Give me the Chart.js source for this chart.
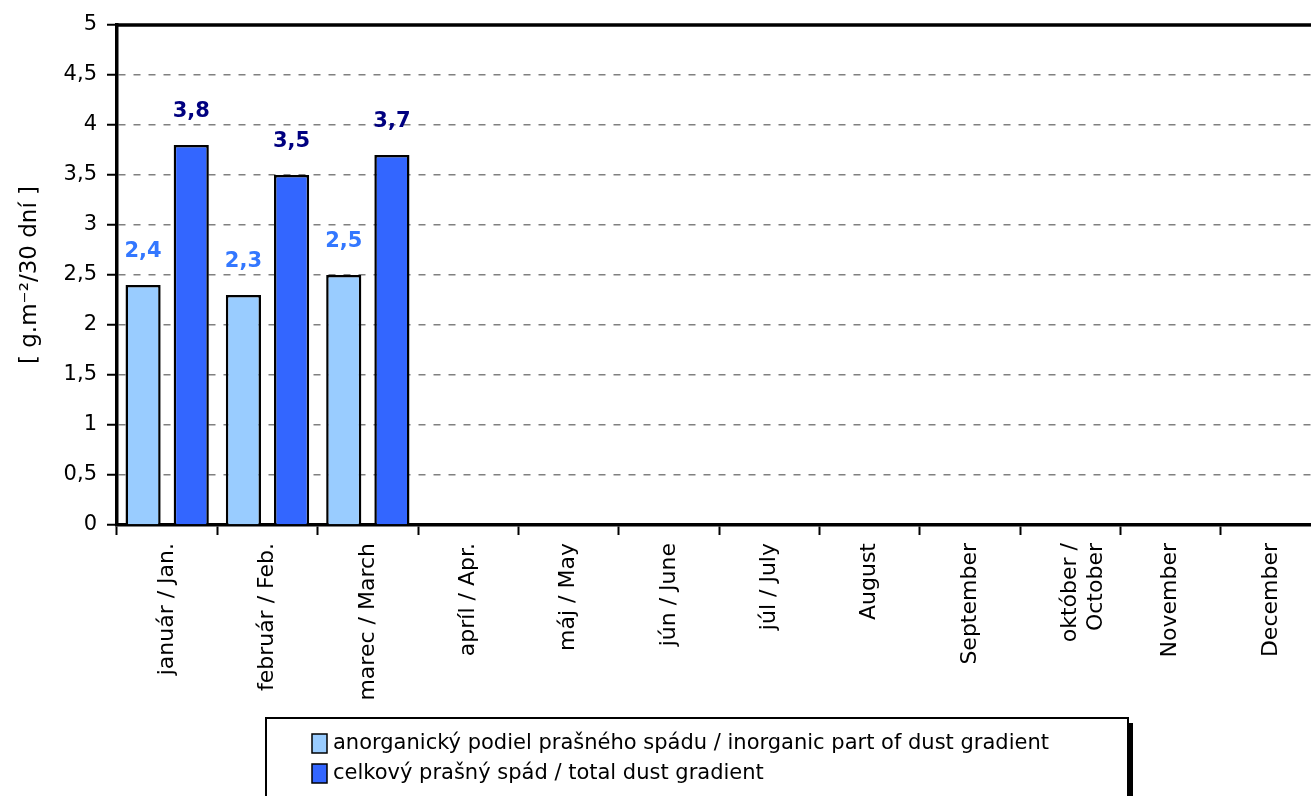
<!DOCTYPE html>
<html>
<head>
<meta charset="utf-8">
<script src="https://cdn.jsdelivr.net/npm/chart.js@4/dist/chart.umd.min.js"></script>
<style>
  html, body { margin: 0; padding: 0; background: #fff; overflow: hidden; }
  #wrap { width: 1311px; height: 796px; overflow: hidden; }
</style>
</head>
<body>
<div id="wrap"><canvas id="dustChart" width="1330" height="796"></canvas></div>
<script>
// mesiace / months
const months = [
    'január / Jan.', 'február / Feb.', 'marec / March', 'apríl / Apr.',
    'máj / May', 'jún / June', 'júl / July', 'August', 'September',
    ['október /', 'October'], 'November', 'December'
];
const inorganic = [2.4, 2.3, 2.5, null, null, null, null, null, null, null, null, null];
const total = [3.8, 3.5, 3.7, null, null, null, null, null, null, null, null, null];
const yTicks = [0, 0.5, 1, 1.5, 2, 2.5, 3, 3.5, 4, 4.5, 5];
const seriesNames = [
    'anorganický podiel prašného spádu / inorganic part of dust gradient',
    'celkový prašný spád / total dust gradient'
];

const FONT = "'DejaVu Sans', sans-serif";
const comma = v => String(v).replace('.', ',');

// hodnoty nad stĺpcami
const valueLabels = {
    id: 'valueLabels',
    afterDatasetsDraw(chart) {
        const ctx = chart.ctx;
        ctx.save();
        ctx.font = 'bold 21px ' + FONT;
        ctx.textAlign = 'center';
        ctx.textBaseline = 'middle';
        chart.data.datasets.forEach((ds, i) => {
            chart.getDatasetMeta(i).data.forEach((bar, j) => {
                if (ds.data[j] == null) return;
                ctx.fillStyle = ds.labelColor;
                ctx.fillText(comma(ds.data[j]), bar.x, bar.y - 33);
            });
        });
        ctx.restore();
    }
};

// horny okraj grafu
const topBorder = {
    id: 'topBorder',
    afterDraw(chart) {
        const a = chart.chartArea, ctx = chart.ctx;
        ctx.save();
        ctx.strokeStyle = '#000';
        ctx.lineWidth = 3.5;
        ctx.beginPath();
        ctx.moveTo(a.left - 1.5, a.top);
        ctx.lineTo(a.right, a.top);
        ctx.stroke();
        ctx.restore();
    }
};

// legenda v ramceku
const boxLegend = {
    id: 'boxLegend',
    afterDraw(chart) {
        const ctx = chart.ctx;
        ctx.save();
        ctx.fillStyle = '#000';
        ctx.fillRect(271, 723, 862, 100);
        ctx.fillStyle = '#fff';
        ctx.fillRect(266, 718, 862, 100);
        ctx.strokeStyle = '#000';
        ctx.lineWidth = 2;
        ctx.strokeRect(266, 718, 862, 100);
        ctx.font = '21px ' + FONT;
        ctx.textBaseline = 'middle';
        chart.data.datasets.forEach((ds, i) => {
            const y = 743 + i * 30;
            ctx.fillStyle = ds.backgroundColor;
            ctx.fillRect(312, y - 9, 15, 19);
            ctx.lineWidth = 1.5;
            ctx.strokeRect(312, y - 9, 15, 19);
            ctx.fillStyle = '#000';
            ctx.fillText(ds.label, 333, y + 1);
        });
        ctx.restore();
    }
};

new Chart(document.getElementById('dustChart'), {
    type: 'bar',
    data: {
        labels: months,
        datasets: [{
            label: seriesNames[0],
            data: inorganic,
            backgroundColor: '#99ccff',
            borderColor: '#000',
            borderWidth: 2.5,
            labelColor: '#3377ff'
        }, {
            label: seriesNames[1],
            data: total,
            backgroundColor: '#3366ff',
            borderColor: '#000',
            borderWidth: 2.5,
            labelColor: '#000080'
        }]
    },
    options: {
        responsive: false,
        animation: false,
        layout: { padding: { top: 25, right: 9, left: 0, bottom: 0 } },
        datasets: { bar: { categoryPercentage: 0.96, barPercentage: 0.73 } },
        plugins: {
            legend: { display: false },
            tooltip: { enabled: false }
        },
        scales: {
            x: {
                afterFit(scale) { scale.height = 271; },
                grid: {
                    drawOnChartArea: false,
                    drawTicks: true,
                    tickLength: 10,
                    tickColor: '#000',
                    tickWidth: 2
                },
                border: { color: '#000', width: 3.5 },
                ticks: {
                    autoSkip: false,
                    minRotation: 90,
                    maxRotation: 90,
                    padding: 8,
                    color: '#000',
                    font: { family: FONT, size: 22 }
                }
            },
            y: {
                min: 0,
                max: 5,
                afterFit(scale) { scale.width = 117; },
                afterBuildTicks(scale) { scale.ticks = yTicks.map(v => ({ value: v })); },
                grid: {
                    color: '#808080',
                    lineWidth: 1.5,
                    tickLength: 10,
                    tickColor: '#000',
                    tickWidth: 2,
                    tickBorderDash: []
                },
                border: { color: '#000', width: 3.5, dash: [7, 8] },
                ticks: {
                    padding: 10,
                    color: '#000',
                    font: { family: FONT, size: 21 },
                    callback: v => comma(v)
                },
                title: {
                    display: true,
                    text: '[ g.m⁻²/30 dní ]',
                    color: '#000',
                    padding: { top: 16, bottom: 0 },
                    font: { family: FONT, size: 23 }
                }
            }
        }
    },
    plugins: [valueLabels, topBorder, boxLegend]
});
</script>
</body>
</html>
